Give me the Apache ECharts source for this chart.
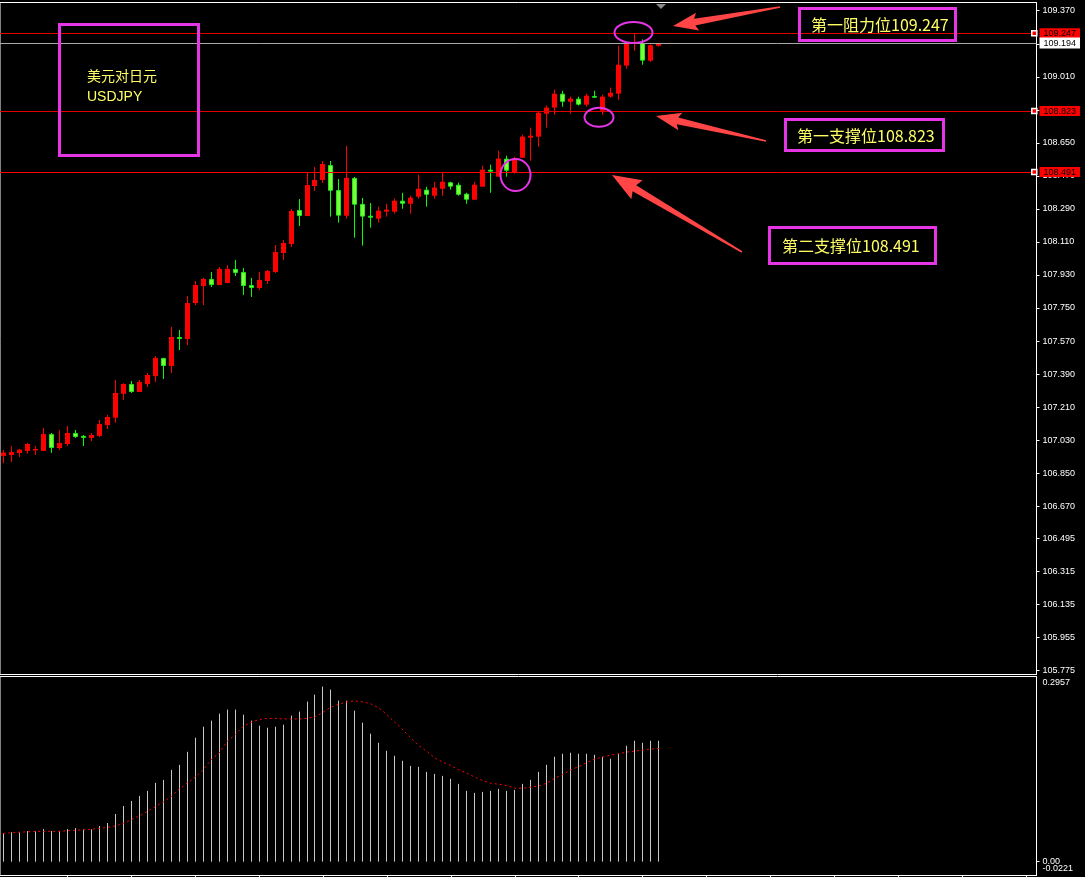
<!DOCTYPE html>
<html><head><meta charset="utf-8">
<script src="https://cdn.jsdelivr.net/npm/echarts@6/dist/echarts.min.js"></script>
<style>html,body{margin:0;padding:0;background:#000;}#c{width:1085px;height:877px;}</style>
</head><body><div id="c"></div>
<script>
// ---- data (USDJPY candles, oldest -> newest) ----
const opens = [106.944,106.949,106.960,106.971,106.975,106.971,107.063,106.987,107.009,107.069,
107.053,107.042,107.053,107.112,107.152,107.283,107.336,107.292,107.336,107.379,
107.478,107.434,107.592,107.581,107.777,107.870,107.908,107.875,107.886,107.963,
107.946,107.875,107.859,107.897,107.946,108.050,108.099,108.284,108.251,108.415,
108.448,108.529,108.393,108.253,108.459,108.317,108.253,108.237,108.275,108.275,
108.335,108.318,108.357,108.395,108.362,108.400,108.435,108.422,108.373,108.340,
108.411,108.504,108.466,108.564,108.487,108.569,108.678,108.684,108.809,108.842,
108.918,108.874,108.891,108.858,108.905,108.825,108.902,108.918,109.071,109.193,
109.193,109.098,109.179];
const closes = [106.962,106.965,106.978,107.009,106.982,107.063,106.987,107.014,107.069,107.047,
107.042,107.058,107.118,107.156,107.287,107.336,107.292,107.347,107.385,107.478,
107.434,107.592,107.581,107.777,107.875,107.908,107.875,107.963,107.963,107.941,
107.870,107.859,107.903,107.952,108.055,108.104,108.279,108.251,108.420,108.448,
108.535,108.389,108.253,108.459,108.313,108.248,108.242,108.280,108.286,108.335,
108.318,108.351,108.400,108.367,108.406,108.438,108.411,108.367,108.340,108.422,
108.504,108.493,108.564,108.498,108.564,108.684,108.689,108.814,108.842,108.918,
108.874,108.891,108.858,108.907,108.896,108.902,108.923,109.076,109.193,109.200,
109.098,109.182,109.194];
const lows = [106.904,106.911,106.938,106.956,106.949,106.971,106.960,106.976,106.998,107.042,
106.998,107.025,107.047,107.091,107.125,107.249,107.287,107.292,107.320,107.347,
107.363,107.396,107.521,107.548,107.766,107.766,107.865,107.875,107.886,107.924,
107.821,107.810,107.848,107.881,107.941,108.012,108.082,108.197,108.251,108.388,
108.431,108.248,108.215,108.237,108.133,108.090,108.188,108.215,108.248,108.264,
108.291,108.264,108.346,108.302,108.346,108.362,108.395,108.362,108.318,108.340,
108.411,108.378,108.466,108.466,108.482,108.569,108.553,108.629,108.733,108.803,
108.847,108.809,108.853,108.847,108.896,108.803,108.896,108.885,109.054,109.152,
109.076,109.092,109.174];
const highs = [106.976,106.998,106.982,107.014,106.998,107.096,107.069,107.085,107.107,107.085,
107.058,107.069,107.140,107.167,107.358,107.340,107.352,107.358,107.396,107.488,
107.478,107.647,107.630,107.815,107.897,107.914,107.946,107.974,107.984,108.012,
107.968,107.914,107.946,107.957,108.093,108.121,108.290,108.344,108.486,108.518,
108.551,108.551,108.453,108.633,108.464,108.350,108.322,108.302,108.318,108.346,
108.378,108.362,108.476,108.411,108.438,108.487,108.438,108.433,108.378,108.438,
108.526,108.531,108.607,108.580,108.575,108.694,108.733,108.820,108.853,108.940,
108.934,108.902,108.902,108.918,108.934,108.912,108.951,109.179,109.200,109.243,
109.214,109.187,109.194];
const macdHist = [0.0452,0.0468,0.0468,0.0489,0.0484,0.0521,0.0489,0.0484,0.0521,0.0537,
0.0516,0.0516,0.0569,0.0617,0.0761,0.0889,0.0970,0.1050,0.1130,0.1258,
0.1306,0.1466,0.1546,0.1755,0.1979,0.2155,0.2252,0.2364,0.2428,0.2428,
0.2348,0.2252,0.2171,0.2139,0.2155,0.2188,0.2332,0.2396,0.2556,0.2668,
0.2796,0.2748,0.2572,0.2572,0.2412,0.2220,0.2043,0.1899,0.1771,0.1691,
0.1611,0.1530,0.1514,0.1434,0.1402,0.1370,0.1322,0.1242,0.1130,0.1098,
0.1114,0.1130,0.1162,0.1130,0.1146,0.1242,0.1306,0.1434,0.1546,0.1675,
0.1723,0.1739,0.1723,0.1723,0.1707,0.1675,0.1643,0.1723,0.1851,0.1931,
0.1899,0.1931,0.1931];
const macdSignal = [0.0452,0.0462,0.0468,0.0478,0.0484,0.0484,0.0484,0.0484,0.0494,0.0500,
0.0510,0.0516,0.0532,0.0548,0.0569,0.0612,0.0670,0.0729,0.0798,0.0878,
0.0949,0.1038,0.1157,0.1253,0.1349,0.1466,0.1627,0.1734,0.1920,0.2027,
0.2160,0.2224,0.2268,0.2288,0.2288,0.2279,0.2279,0.2279,0.2288,0.2311,
0.2385,0.2468,0.2516,0.2551,0.2567,0.2551,0.2519,0.2455,0.2348,0.2224,
0.2107,0.1974,0.1851,0.1760,0.1654,0.1590,0.1535,0.1466,0.1413,0.1349,
0.1295,0.1253,0.1237,0.1215,0.1173,0.1173,0.1189,0.1210,0.1253,0.1333,
0.1391,0.1466,0.1519,0.1583,0.1638,0.1670,0.1702,0.1723,0.1750,0.1766,
0.1782,0.1798,0.1808];
const priceTicks = [105.775,105.955,106.135,106.315,106.495,106.670,106.850,107.030,107.210,107.390,
107.570,107.750,107.930,108.110,108.290,108.470,108.650,108.830,109.010,109.190,109.370];
const macdMax = 0.2957, macdMin = -0.0221;
const macdTicks = [macdMax, 0];
const macdMinTicks = [macdMin];
const timeTicks = [8,16,24,32,40,48,56,64,72,80,88,96,104,112,120,128];
const resistance1 = 109.247;
const bidPrice = 109.194;
const support1 = 108.823;
const support2 = 108.491;
const titleLines = ['美元对日元', 'USDJPY'];
const noteResist = '第一阻力位109.247';
const noteSup1 = '第一支撑位108.823';
const noteSup2 = '第二支撑位108.491';

// ---- chart ----
const XMIN = -0.4125, XMAX = 129.275;
const candleData = opens.map((o, i) => [i, o, closes[i], lows[i], highs[i]]);
const histData = macdHist.map((v, i) => [i, v]);
const sigData = macdSignal.map((v, i) => [i, v]);

const chart = echarts.init(document.getElementById('c'), null, {renderer: 'canvas'});

function arrow(tx, ty, px, py, hl, hw) {
  const dx = px - tx, dy = py - ty, L = Math.hypot(dx, dy);
  const ux = dx / L, uy = dy / L, nx = -uy, ny = ux;
  const s0 = 0.8, s1 = 3.5;
  const bx = px - ux * hl, by = py - uy * hl;
  return [[tx + nx * s0, ty + ny * s0], [bx + nx * s1, by + ny * s1], [bx - ux * 3 + nx * hw, by - uy * 3 + ny * hw], [px, py],
          [bx - ux * 3 - nx * hw, by - uy * 3 - ny * hw], [bx - nx * s1, by - ny * s1], [tx - nx * s0, ty - ny * s0]];
}
const MAG = '#e535e5', ARR = '#ff4545', TXT = '#ffff66';
const cjk = "'Noto Sans CJK SC', sans-serif";
const lblFont = {color: '#fff', fontFamily: 'Liberation Sans', fontSize: 9};

function tagLabel(txt, bg, fg, pad) {
  return {show: true, position: 'end', distance: 3, formatter: () => txt,
    backgroundColor: bg, color: fg, fontFamily: 'Liberation Sans', fontSize: 9, lineHeight: 9, padding: pad};
}

const option = {
  backgroundColor: '#000',
  animation: false,
  grid: [
    {left: -1, top: 2.5, width: 1037.5, height: 672, show: true, borderColor: '#ffffff', borderWidth: 1, backgroundColor: 'transparent'},
    {left: -1, top: 676.5, width: 1037.5, height: 199, show: true, borderColor: '#ffffff', borderWidth: 1, backgroundColor: 'transparent'}
  ],
  xAxis: [
    {gridIndex: 0, type: 'value', min: XMIN, max: XMAX, show: false, axisLine: {onZero: false}},
    {gridIndex: 1, type: 'value', min: XMIN, max: XMAX, position: 'bottom',
      axisLine: {show: true, onZero: false, lineStyle: {color: '#fff'}},
      axisTick: {show: true, customValues: timeTicks, length: 3, lineStyle: {color: '#fff'}},
      axisLabel: {show: false}, splitLine: {show: false}}
  ],
  yAxis: [
    {gridIndex: 0, type: 'value', position: 'right', min: 105.7527, max: 109.4149,
      axisLine: {show: true, onZero: false, lineStyle: {color: '#fff'}},
      axisTick: {show: true, customValues: priceTicks, length: 3, lineStyle: {color: '#fff'}},
      axisLabel: Object.assign({show: true, customValues: priceTicks, margin: 6, hideOverlap: false,
        formatter: v => v.toFixed(3)}, lblFont),
      splitLine: {show: false}},
    {gridIndex: 1, type: 'value', position: 'right', min: macdMin, max: macdMax,
      axisLine: {show: true, onZero: false, lineStyle: {color: '#fff'}},
      axisTick: {show: true, customValues: [0], length: 3, lineStyle: {color: '#fff'}},
      axisLabel: Object.assign({show: true, customValues: macdTicks, margin: 6, hideOverlap: false,
        formatter: v => v === 0 ? '0.00' : '{t|' + v.toFixed(4) + '}',
        rich: {t: Object.assign({padding: [13, 0, 0, 0]}, lblFont)}}, lblFont),
      splitLine: {show: false}},
    {gridIndex: 1, type: 'value', position: 'right', min: macdMin, max: macdMax,
      axisLine: {show: false, onZero: false}, axisTick: {show: false},
      axisLabel: Object.assign({show: true, customValues: macdMinTicks, margin: 6, hideOverlap: false,
        formatter: v => '{b|' + v.toFixed(4) + '}',
        rich: {b: Object.assign({padding: [0, 0, 13, 0]}, lblFont)}}, lblFont),
      splitLine: {show: false}}
  ],
  series: [
    {
      type: 'custom', name: 'USDJPY', xAxisIndex: 0, yAxisIndex: 0, data: candleData,
      encode: {x: 0, y: [1, 2, 3, 4]}, z: 3,
      renderItem: (params, api) => {
        const x = api.value(0), o = api.value(1), c = api.value(2), l = api.value(3), h = api.value(4);
        const pO = api.coord([x, o]), pC = api.coord([x, c]), pL = api.coord([x, l]), pH = api.coord([x, h]);
        const up = c >= o;
        const col = up ? '#ff0000' : '#00ff00';
        const xc = Math.floor(pO[0]) + 0.5;
        const top = Math.min(pO[1], pC[1]), bot = Math.max(pO[1], pC[1]);
        const hgt = Math.max(bot - top, 1.5);
        return {type: 'group', children: [
          {type: 'line', shape: {x1: xc, y1: pH[1], x2: xc, y2: pL[1]}, style: {stroke: col, lineWidth: 1}},
          up ? {type: 'rect', shape: {x: xc - 2.5, y: top, width: 5, height: hgt}, style: {fill: col}}
             : {type: 'rect', shape: {x: xc - 2, y: top + 0.5, width: 4, height: Math.max(hgt - 1, 0.5)},
                style: {fill: '#7dff3c', stroke: '#19f019', lineWidth: 1}}
        ]};
      },
      markLine: {
        silent: true, symbol: ['none', 'none'], animation: false, precision: 3,
        data: [
          {yAxis: resistance1, lineStyle: {color: '#e00000', width: 1, type: 'solid'}, label: tagLabel(resistance1.toFixed(3), '#ff0000', '#000', [1, 4, 0, 4])},
          {yAxis: bidPrice, lineStyle: {color: '#a8a8a8', width: 1, type: 'solid'}, label: tagLabel(bidPrice.toFixed(3), '#ffffff', '#000', [1, 4, 1, 4])},
          {yAxis: support1, lineStyle: {color: '#e00000', width: 1, type: 'solid'}, label: tagLabel(support1.toFixed(3), '#ff0000', '#000', [1, 4, 0, 4])},
          {yAxis: support2, lineStyle: {color: '#ff0000', width: 1, type: 'solid'}, label: tagLabel(support2.toFixed(3), '#ff0000', '#000', [1, 4, 0, 4])}
        ]
      },
      markPoint: {
        silent: true, symbol: 'rect', symbolSize: 5, label: {show: false},
        itemStyle: {color: '#ff0000', borderColor: '#ffffff', borderWidth: 1.5},
        data: [{coord: [129, resistance1]}, {coord: [129, support1]}, {coord: [129, support2]}]
      }
    },
    {
      type: 'custom', name: 'MACD', xAxisIndex: 1, yAxisIndex: 1, data: histData, encode: {x: 0, y: 1},
      renderItem: (params, api) => {
        const p0 = api.coord([api.value(0), 0]), p1 = api.coord([api.value(0), api.value(1)]);
        const x = Math.floor(p0[0]) + 0.5;
        return {type: 'line', shape: {x1: x, y1: p0[1], x2: x, y2: p1[1]}, style: {stroke: '#c8c8c8', lineWidth: 1}};
      }
    },
    {
      type: 'line', name: 'Signal', xAxisIndex: 1, yAxisIndex: 1, data: sigData, symbol: 'none', z: 4,
      lineStyle: {color: '#ff0000', width: 1, type: [2, 3]}
    }
  ],
  graphic: [
    {type: 'polygon', shape: {points: [[656, 4], [666, 4], [661, 9]]}, style: {fill: '#8a8a8a'}, z: 50},
    {type: 'rect', shape: {x: 59.5, y: 24.5, width: 139, height: 131}, style: {fill: 'none', stroke: MAG, lineWidth: 3}, z: 50},
    {type: 'text', x: 87, y: 76, style: {text: titleLines[0], fill: TXT, fontSize: 14, fontFamily: cjk, verticalAlign: 'middle'}, z: 50},
    {type: 'text', x: 87, y: 97, style: {text: titleLines[1], fill: TXT, fontSize: 14, fontFamily: 'Liberation Sans', verticalAlign: 'middle'}, z: 50},
    {type: 'rect', shape: {x: 799.5, y: 8.5, width: 156, height: 32}, style: {fill: 'none', stroke: MAG, lineWidth: 3}, z: 50},
    {type: 'text', x: 811, y: 25, style: {text: noteResist, fill: TXT, fontSize: 16, fontFamily: cjk, verticalAlign: 'middle'}, z: 50},
    {type: 'rect', shape: {x: 785.5, y: 119.5, width: 158, height: 31}, style: {fill: 'none', stroke: MAG, lineWidth: 3}, z: 50},
    {type: 'text', x: 797, y: 136, style: {text: noteSup1, fill: TXT, fontSize: 16, fontFamily: cjk, verticalAlign: 'middle'}, z: 50},
    {type: 'rect', shape: {x: 769.5, y: 227.5, width: 166, height: 36}, style: {fill: 'none', stroke: MAG, lineWidth: 3}, z: 50},
    {type: 'text', x: 782, y: 246, style: {text: noteSup2, fill: TXT, fontSize: 16, fontFamily: cjk, verticalAlign: 'middle'}, z: 50},
    {type: 'ellipse', shape: {cx: 633.5, cy: 32.5, rx: 19, ry: 10.5}, style: {fill: 'none', stroke: MAG, lineWidth: 2}, z: 50},
    {type: 'ellipse', shape: {cx: 599, cy: 117.3, rx: 14.5, ry: 9.5}, style: {fill: 'none', stroke: MAG, lineWidth: 2}, z: 50},
    {type: 'ellipse', shape: {cx: 515.5, cy: 175, rx: 15, ry: 16}, style: {fill: 'none', stroke: MAG, lineWidth: 2}, z: 50},
    {type: 'polygon', shape: {points: arrow(780, 7, 673, 26, 22, 9)}, style: {fill: ARR}, z: 50},
    {type: 'polygon', shape: {points: arrow(766, 141, 656, 116, 22, 9)}, style: {fill: ARR}, z: 50},
    {type: 'polygon', shape: {points: arrow(742, 252, 612, 175, 26, 11)}, style: {fill: ARR}, z: 50}
  ]
};
chart.setOption(option);
</script>
</body></html>
